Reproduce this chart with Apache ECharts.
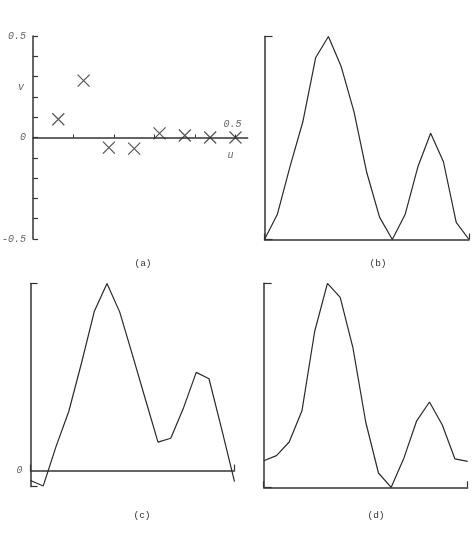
<!DOCTYPE html>
<html>
<head>
<meta charset="utf-8">
<script src="https://cdn.jsdelivr.net/npm/echarts@6/dist/echarts.min.js"></script>
<style>
html,body{margin:0;padding:0;background:#fff;}
#chart{width:472px;height:534px;}
</style>
</head>
<body>
<div id="chart"></div>
<script>
// Panel (a): scatter of (u, v)
const uValues = [0.0625, 0.125, 0.1875, 0.25, 0.3125, 0.375, 0.4375, 0.5];
const vValues = [0.09, 0.28, -0.05, -0.055, 0.02, 0.01, 0, 0];
const aYTickLabels = [0.5, 0, -0.5];
const aXTickLabels = [0.5];

// Panels (b), (c), (d): curves over 17 samples
const sampleIndex = [0, 1, 2, 3, 4, 5, 6, 7, 8, 9, 10, 11, 12, 13, 14, 15, 16];
const seriesB = [0, 0.123, 0.36, 0.58, 0.895, 1, 0.852, 0.63, 0.33, 0.11, 0, 0.123, 0.358, 0.523, 0.383, 0.084, 0];
const seriesC = [-0.053, -0.082, 0.128, 0.316, 0.575, 0.85, 1, 0.847, 0.617, 0.384, 0.152, 0.173, 0.335, 0.525, 0.491, 0.22, -0.059];
const seriesD = [0.13, 0.155, 0.222, 0.375, 0.765, 1, 0.931, 0.683, 0.32, 0.07, 0, 0.144, 0.326, 0.418, 0.307, 0.139, 0.127];
const cYTickLabels = [0];
const captions = ['(a)', '(b)', '(c)', '(d)'];

const INK = '#2a2a2a';
const AXIS = '#333';
const LABEL = '#666';
const monoItalic = {fontFamily: 'Liberation Mono', fontStyle: 'italic', fontSize: 10, color: LABEL};

function pairs(xs, ys) { return xs.map((x, i) => [x, ys[i]]); }

const chart = echarts.init(document.getElementById('chart'), null, {renderer: 'canvas'});

const option = {
  animation: false,
  backgroundColor: '#fff',
  title: [
    {text: captions[0], left: 138, top: 253, textAlign: 'center'},
    {text: captions[1], left: 373, top: 253, textAlign: 'center'},
    {text: captions[2], left: 137, top: 505, textAlign: 'center'},
    {text: captions[3], left: 371, top: 505, textAlign: 'center'}
  ].map(t => Object.assign(t, {textStyle: {fontFamily: 'Liberation Mono', fontSize: 9.5, fontWeight: 'normal', color: '#333'}})),
  grid: [
    {left: 33, top: 36, width: 214.6, height: 203, outerBoundsMode: 'none', containLabel: false},
    {left: 264.5, top: 36.5, width: 204.5, height: 203, outerBoundsMode: 'none', containLabel: false},
    {left: 30.5, top: 283.5, width: 204, height: 203, outerBoundsMode: 'none', containLabel: false},
    {left: 263.7, top: 283.3, width: 204, height: 204, outerBoundsMode: 'none', containLabel: false}
  ],
  xAxis: [
    {
      gridIndex: 0, type: 'value', min: 0, max: 0.53, interval: 0.1,
      position: 'bottom', offset: -101.5,
      splitLine: {show: false},
      axisLine: {onZero: false, lineStyle: {color: AXIS, width: 1.5}},
      axisTick: {inside: true, length: 3, customValues: [0.1, 0.2, 0.3, 0.4, 0.5], lineStyle: {color: AXIS}},
      axisLabel: Object.assign({inside: true, margin: 8, padding: [0, 6, 0, 0], customValues: aXTickLabels, formatter: v => String(v)}, monoItalic),
      name: 'u', nameLocation: 'end', nameGap: -20,
      nameTextStyle: Object.assign({align: 'left', verticalAlign: 'top', padding: [13, 0, 0, 0]}, monoItalic)
    },
    {
      gridIndex: 1, type: 'value', min: 0, max: 16, interval: 16,
      splitLine: {show: false},
      axisLine: {lineStyle: {color: AXIS, width: 1.5}},
      axisTick: {inside: true, length: 6, lineStyle: {color: AXIS, width: 1.2}},
      axisLabel: {show: false}
    },
    {
      gridIndex: 2, type: 'value', min: 0, max: 16, interval: 16,
      splitLine: {show: false},
      axisLine: {onZero: true, lineStyle: {color: AXIS, width: 1.5}},
      axisTick: {inside: true, length: 6, lineStyle: {color: AXIS, width: 1.2}},
      axisLabel: {show: false}
    },
    {
      gridIndex: 3, type: 'value', min: 0, max: 16, interval: 16,
      splitLine: {show: false},
      axisLine: {lineStyle: {color: AXIS, width: 1.5}},
      axisTick: {inside: true, length: 6, lineStyle: {color: AXIS, width: 1.2}},
      axisLabel: {show: false}
    }
  ],
  yAxis: [
    {
      gridIndex: 0, type: 'value', min: -0.5, max: 0.5, interval: 0.1,
      splitLine: {show: false},
      axisLine: {onZero: false, lineStyle: {color: AXIS, width: 1.5}},
      axisTick: {inside: true, length: 5, lineStyle: {color: AXIS, width: 1.2}},
      axisLabel: Object.assign({margin: 7, customValues: aYTickLabels, formatter: v => String(v)}, monoItalic),
      name: 'v', nameLocation: 'end', nameGap: -51,
      nameTextStyle: Object.assign({align: 'right', verticalAlign: 'middle', padding: [0, 9, 0, 0]}, monoItalic)
    },
    {
      gridIndex: 1, type: 'value', min: 0, max: 1, interval: 1,
      splitLine: {show: false},
      axisLine: {lineStyle: {color: AXIS, width: 1.5}},
      axisTick: {inside: true, length: 8, lineStyle: {color: AXIS, width: 1.2}},
      axisLabel: {show: false}
    },
    {
      gridIndex: 2, type: 'value', min: -0.085, max: 1,
      splitLine: {show: false},
      axisLine: {onZero: false, lineStyle: {color: AXIS, width: 1.5}},
      axisTick: {inside: true, length: 7, customValues: [-0.085, 1], lineStyle: {color: AXIS, width: 1.2}},
      axisLabel: Object.assign({margin: 8, verticalAlign: 'middle', padding: [0, 0, 6, 0], customValues: cYTickLabels, formatter: v => String(v)}, monoItalic)
    },
    {
      gridIndex: 3, type: 'value', min: 0, max: 1, interval: 1,
      splitLine: {show: false},
      axisLine: {lineStyle: {color: AXIS, width: 1.5}},
      axisTick: {inside: true, length: 8, lineStyle: {color: AXIS, width: 1.2}},
      axisLabel: {show: false}
    }
  ],
  series: [
    {
      type: 'scatter', xAxisIndex: 0, yAxisIndex: 0,
      data: pairs(uValues, vValues),
      symbol: 'path://M0,0L10,10M10,0L0,10',
      symbolSize: 12,
      itemStyle: {color: 'none', borderColor: INK, borderWidth: 1.2},
      silent: true
    },
    {
      type: 'line', xAxisIndex: 1, yAxisIndex: 1, data: pairs(sampleIndex, seriesB),
      showSymbol: false, silent: true, lineStyle: {color: INK, width: 1.2}
    },
    {
      type: 'line', xAxisIndex: 2, yAxisIndex: 2, data: pairs(sampleIndex, seriesC),
      showSymbol: false, silent: true, lineStyle: {color: INK, width: 1.2}
    },
    {
      type: 'line', xAxisIndex: 3, yAxisIndex: 3, data: pairs(sampleIndex, seriesD),
      showSymbol: false, silent: true, lineStyle: {color: INK, width: 1.2}
    }
  ]
};
chart.setOption(option);
</script>
</body>
</html>
